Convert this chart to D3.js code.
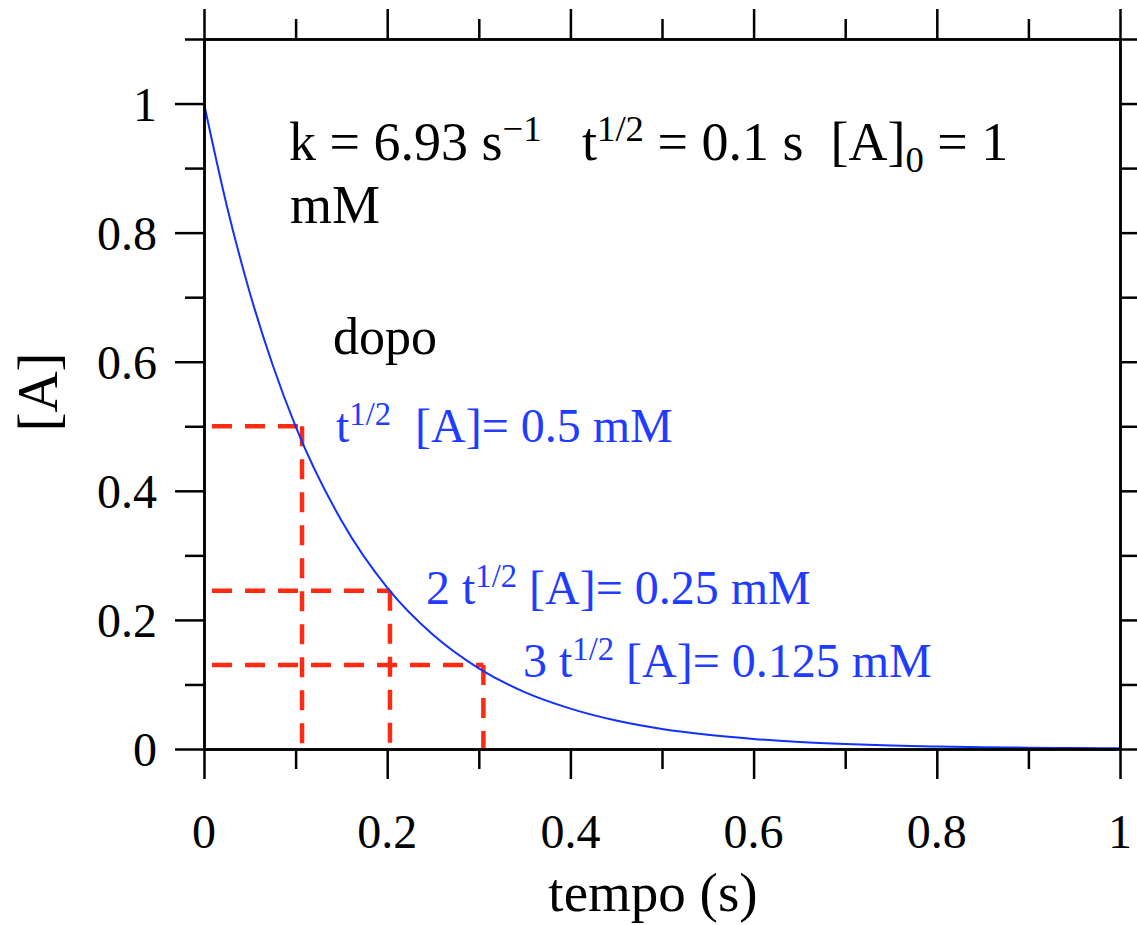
<html>
<head>
    <script src="https://d3js.org/d3.v7.min.js"></script>
    <style>
        body { margin: 0; background: #fff; }
        text { font-family: "Liberation Serif", "Times New Roman", serif; }
    </style>
</head>
<body>
    <div id="cont"></div>
    <script>
        // values
        var tVals = [0, 0.025, 0.05, 0.075, 0.1, 0.15, 0.2, 0.25, 0.3, 0.35, 0.4, 0.45, 0.5,
                     0.55, 0.6, 0.65, 0.7, 0.75, 0.8, 0.85, 0.9, 0.95, 1];
        var aVals = [1, 0.841, 0.707, 0.595, 0.5, 0.354, 0.25, 0.177, 0.125, 0.088, 0.0625, 0.044, 0.031,
                     0.022, 0.0156, 0.011, 0.0078, 0.0055, 0.0039, 0.0028, 0.002, 0.0014, 0.001];
        var halfT = [0.107, 0.203, 0.305];
        var halfA = [0.5, 0.245, 0.13];
        var xMajor = [0, 0.2, 0.4, 0.6, 0.8, 1];
        var xMinor = [0.1, 0.3, 0.5, 0.7, 0.9];
        var yMajor = [0, 0.2, 0.4, 0.6, 0.8, 1];
        var yMinor = [0.1, 0.3, 0.5, 0.7, 0.9, 1.1];
        var xLabels = ["0", "0.2", "0.4", "0.6", "0.8", "1"];
        var yLabels = ["0", "0.2", "0.4", "0.6", "0.8", "1"];

        var svg = d3.select("#cont").append("svg")
            .attr("width", 1137)
            .attr("height", 925);

        var x = d3.scaleLinear().domain([0, 1]).range([204, 1120]);
        var y = d3.scaleLinear().domain([0, 1.1]).range([749, 39]);

        var black = "#000";
        var blue = "#1f3cff";
        var red = "#ff2a12";

        // red guides
        var g = svg.append("g");
        halfT.forEach(function(t, i) {
            g.append("line")
                .attr("x1", x(0) + 8).attr("x2", x(t))
                .attr("y1", y(halfA[i])).attr("y2", y(halfA[i]));
            g.append("line")
                .attr("x1", x(t)).attr("x2", x(t))
                .attr("y1", y(halfA[i])).attr("y2", y(0));
        });
        g.selectAll("line")
            .attr("stroke", red)
            .attr("stroke-width", 4.5)
            .attr("stroke-dasharray", "20,13");

        // curve
        var pts = tVals.map(function(t, i) { return [t, aVals[i]]; });
        svg.append("path")
            .datum(pts)
            .attr("fill", "none")
            .attr("stroke", "#1230ff")
            .attr("stroke-width", 2)
            .attr("d", d3.line()
                .x(function(d) { return x(d[0]); })
                .y(function(d) { return y(d[1]); })
                .curve(d3.curveMonotoneX));

        // axes, ticks outward
        function addAxis(axis, tx, ty) {
            var a = svg.append("g")
                .attr("transform", "translate(" + tx + "," + ty + ")")
                .call(axis);
            a.selectAll("text").remove();
            a.selectAll("path, line").attr("stroke", black).attr("stroke-width", 2.5);
        }
        addAxis(d3.axisBottom(x).tickValues(xMajor).tickSize(30).tickSizeOuter(0), 0, 749);
        addAxis(d3.axisBottom(x).tickValues(xMinor).tickSize(20).tickSizeOuter(0), 0, 749);
        addAxis(d3.axisTop(x).tickValues(xMajor).tickSize(30).tickSizeOuter(0), 0, 39);
        addAxis(d3.axisTop(x).tickValues(xMinor).tickSize(20).tickSizeOuter(0), 0, 39);
        addAxis(d3.axisLeft(y).tickValues(yMajor).tickSize(29).tickSizeOuter(0), 204, 0);
        addAxis(d3.axisLeft(y).tickValues(yMinor).tickSize(19).tickSizeOuter(0), 204, 0);
        addAxis(d3.axisRight(y).tickValues(yMajor).tickSize(29).tickSizeOuter(0), 1120, 0);
        addAxis(d3.axisRight(y).tickValues(yMinor).tickSize(19).tickSizeOuter(0), 1120, 0);

        // tick labels
        svg.selectAll(".xl").data(xMajor).enter().append("text")
            .attr("x", function(d) { return x(d); })
            .attr("y", 848)
            .attr("text-anchor", "middle")
            .attr("font-size", 48)
            .text(function(d, i) { return xLabels[i]; });
        svg.selectAll(".yl").data(yMajor).enter().append("text")
            .attr("x", 157)
            .attr("y", function(d) { return y(d) + 17; })
            .attr("text-anchor", "end")
            .attr("font-size", 48)
            .text(function(d, i) { return yLabels[i]; });

        // axis titles
        svg.append("text")
            .attr("x", 653).attr("y", 911)
            .attr("text-anchor", "middle")
            .attr("font-size", 55)
            .text("tempo (s)");
        svg.append("text")
            .attr("transform", "translate(57,392) rotate(-90)")
            .attr("text-anchor", "middle")
            .attr("font-size", 57)
            .text("[A]");

        // annotations: parts are [text, shift] where shift 1 = sup, -1 = sub
        function rich(px, py, size, color, parts) {
            var t = svg.append("text")
                .attr("x", px).attr("y", py)
                .attr("font-size", size)
                .attr("fill", color)
                .attr("xml:space", "preserve")
                .style("white-space", "pre");
            var cur = 0;
            parts.forEach(function(p) {
                var shift = p[1] || 0;
                var off = shift === 1 ? -0.36 * size : (shift === -1 ? 0.22 * size : 0);
                t.append("tspan")
                    .attr("dy", off - cur)
                    .attr("font-size", shift ? size * 0.68 : size)
                    .text(p[0]);
                cur = off;
            });
        }

        rich(289, 160, 54, black, [["k = 6.93 s"], ["\u22121", 1], ["   t"], ["1/2", 1],
            [" = 0.1 s  [A]"], ["0", -1], [" = 1"]]);
        rich(290, 223, 54, black, [["mM"]]);
        rich(333, 354, 52, black, [["dopo"]]);
        rich(336, 442, 48, blue, [["t"], ["1/2", 1], ["  [A]= 0.5 mM"]]);
        rich(426, 604, 48, blue, [["2 t"], ["1/2", 1], [" [A]= 0.25 mM"]]);
        rich(523, 677, 48, blue, [["3 t"], ["1/2", 1], [" [A]= 0.125 mM"]]);
    </script>
</body>
</html>
